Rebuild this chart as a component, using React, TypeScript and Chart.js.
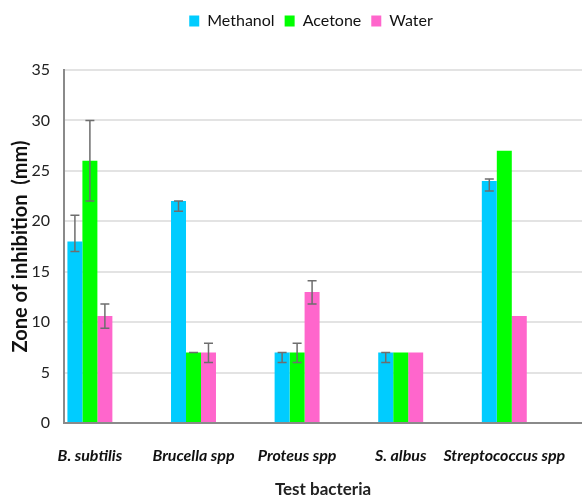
import React, { useEffect, useRef } from 'react';
import { Chart, registerables } from 'chart.js';

Chart.register(...registerables);

// Test organisms on the x axis
const categories = ['B. subtilis', 'Brucella spp', 'Proteus spp', 'S. albus', 'Streptococcus spp'];

// Mean zone of inhibition (mm) per extract
const methanol = [18, 22, 7, 7, 24];
const acetone = [26, 7, 7, 7, 27];
const water = [10.6, 7, 13, 7, 10.6];

// Error bar bounds (mm); null = no bar drawn
const methanolLow = [17, 21, 6, 6, 23];
const methanolHigh = [20.6, 22, 7, 7, 24.2];
const acetoneLow = [22, 7, 6, null, null];
const acetoneHigh = [30, 7, 7.9, null, null];
const waterLow = [9.4, 6, 11.8, null, null];
const waterHigh = [11.8, 7.9, 14.1, null, null];

const yMin = 0;
const yMax = 35;
const yStep = 5;

const FONT = 'Lato, "Open Sans", sans-serif';

const toPoints = (vals: number[]) => vals.map((v, i) => ({ x: i + 1, y: v }));

// Draws whiskers with caps from each dataset's errLow/errHigh arrays
const errorBarsPlugin = {
  id: 'errorBars',
  afterDatasetsDraw(chart: any) {
    const { ctx } = chart;
    const yScale = chart.scales.y;
    chart.data.datasets.forEach((ds: any, i: number) => {
      const meta = chart.getDatasetMeta(i);
      meta.data.forEach((bar: any, j: number) => {
        const lo = ds.errLow[j];
        const hi = ds.errHigh[j];
        if (lo == null || hi == null) return;
        const x = bar.x;
        const y1 = yScale.getPixelForValue(lo);
        const y2 = yScale.getPixelForValue(hi);
        const cap = 4.5;
        ctx.save();
        ctx.strokeStyle = '#6e6e6e';
        ctx.lineWidth = 1.5;
        ctx.beginPath();
        ctx.moveTo(x, y1);
        ctx.lineTo(x, y2);
        ctx.moveTo(x - cap, y1);
        ctx.lineTo(x + cap, y1);
        ctx.moveTo(x - cap, y2);
        ctx.lineTo(x + cap, y2);
        ctx.stroke();
        ctx.restore();
      });
    });
  },
};

// Gives the legend a fixed band height and nudges it right to sit over the plot
const legendBandPlugin = {
  id: 'legendBand',
  afterInit(chart: any) {
    const legend = chart.legend;
    if (!legend) return;
    const origFit = legend.fit.bind(legend);
    legend.fit = function () {
      origFit();
      this.height = 67;
    };
  },
  afterLayout(chart: any) {
    const legend = chart.legend;
    if (legend) legend.left += 40;
  },
};

export default function App() {
  const canvasRef = useRef<HTMLCanvasElement | null>(null);

  useEffect(() => {
    if (!canvasRef.current) return;
    const chart = new Chart(canvasRef.current, {
      type: 'bar',
      data: {
        datasets: [
          {
            label: 'Methanol',
            data: toPoints(methanol),
            backgroundColor: '#00ccff',
            errLow: methanolLow,
            errHigh: methanolHigh,
          } as any,
          {
            label: 'Acetone',
            data: toPoints(acetone),
            backgroundColor: '#00ff00',
            errLow: acetoneLow,
            errHigh: acetoneHigh,
          } as any,
          {
            label: 'Water',
            data: toPoints(water),
            backgroundColor: '#ff66cc',
            errLow: waterLow,
            errHigh: waterHigh,
          } as any,
        ],
      },
      options: {
        animation: false,
        responsive: false,
        maintainAspectRatio: false,
        layout: { padding: { left: 0, right: 0, top: 3, bottom: 0 } },
        datasets: {
          bar: { categoryPercentage: 0.434, barPercentage: 1.0 },
        },
        plugins: {
          legend: {
            position: 'top',
            labels: {
              boxWidth: 10,
              boxHeight: 11,
              padding: 10,
              color: '#111',
              font: { family: FONT, size: 16 },
            },
          },
          tooltip: { enabled: false },
        },
        scales: {
          x: {
            type: 'linear',
            min: 0.75,
            max: 5.75,
            offset: false,
            afterBuildTicks: (s: any) => {
              s.ticks = categories.map((_, i) => ({ value: i + 1 }));
            },
            afterFit: (s: any) => {
              s.height = 77;
              s.paddingLeft = 0;
              s.paddingRight = 0;
            },
            ticks: {
              autoSkip: false,
              maxRotation: 0,
              padding: 23,
              color: '#111',
              font: { family: FONT, size: 16, style: 'italic', weight: 'bold' },
              callback: (v: any) => categories[Number(v) - 1] ?? '',
            },
            grid: { display: false, drawTicks: false },
            border: { display: true, color: '#8a8a8a', width: 2 },
            title: {
              display: true,
              text: 'Test bacteria',
              color: '#222',
              font: { family: FONT, size: 17, weight: 'bold' },
              padding: { top: 0, bottom: 0 },
            },
          },
          y: {
            min: yMin,
            max: yMax,
            afterFit: (s: any) => {
              s.width = 64;
            },
            ticks: {
              stepSize: yStep,
              padding: 14,
              color: '#222',
              font: { family: FONT, size: 16 },
            },
            grid: { color: '#e3e3e3', lineWidth: 2, drawTicks: false },
            border: { display: true, color: '#8a8a8a', width: 2 },
            title: {
              display: true,
              text: 'Zone of inhibition  (mm)',
              color: '#111',
              font: { family: FONT, size: 20, weight: 'bold' },
              padding: { top: 9, bottom: 0 },
            },
          },
        },
      } as any,
      plugins: [errorBarsPlugin, legendBandPlugin],
    });
    return () => chart.destroy();
  }, []);

  return (
    <div style={{ position: 'absolute', left: 0, top: 0, width: 582, height: 500, background: '#fff' }}>
      <canvas ref={canvasRef} width={582} height={500} />
    </div>
  );
}
